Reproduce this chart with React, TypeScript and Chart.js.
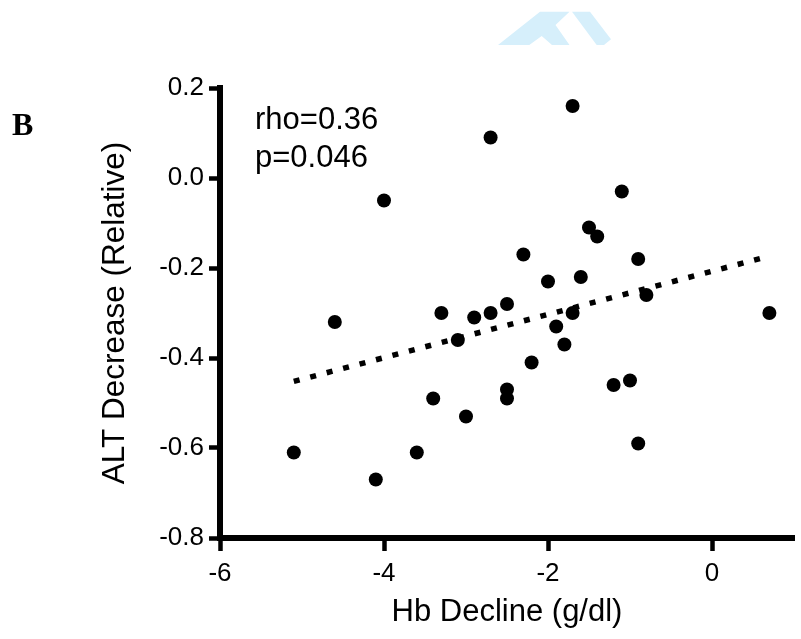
import React, { useEffect, useRef } from "react";
import { Chart, registerables } from "chart.js";

Chart.register(...registerables);

// ---- data ----
const hbDecline = [
  -1.7, -2.7, -4.0, -1.1, -1.5, -1.4, -2.3, -0.9, -2.0, -1.6, -0.8, -2.5, 0.7, -3.3, -2.7, -2.9,
  -4.6, -1.7, -1.9, -3.1, -1.8, -2.2, -1.2, -1.0, -2.5, -2.5, -3.4, -3.0, -0.9, -5.1, -3.6, -4.1,
];
const altDecrease = [
  0.16, 0.09, -0.05, -0.03, -0.11, -0.13, -0.17, -0.18, -0.23, -0.22, -0.26, -0.28, -0.3, -0.3, -0.3, -0.31,
  -0.32, -0.3, -0.33, -0.36, -0.37, -0.41, -0.46, -0.45, -0.47, -0.49, -0.49, -0.53, -0.59, -0.61, -0.61, -0.67,
];
const trendX = [-5.1, 0.65];
const trendY = [-0.452, -0.176];
const xMin = -6;
const xMax = 1;
const xStep = 2;
const yMin = -0.8;
const yMax = 0.2;
const yStep = 0.2;
const xTitle = "Hb Decline (g/dl)";
const yTitle = "ALT Decrease (Relative)";
const statLines = ["rho=0.36", "p=0.046"];
const panelLabel = "B";

const SANS = "'Liberation Sans', Arial, Helvetica, sans-serif";

const decorPlugin = {
  id: "decor",
  beforeDraw(chart: any) {
    const ctx = chart.ctx;
    ctx.save();
    // faint logo watermark at the top
    ctx.fillStyle = "#d6effb";
    ctx.beginPath();
    const p1 = [
      [498, 45], [540, 11.7], [569.5, 11.7], [555.5, 25], [569.5, 45], [552, 45], [541.7, 36], [529.3, 45],
    ];
    p1.forEach(([x, y], i) => (i ? ctx.lineTo(x, y) : ctx.moveTo(x, y)));
    ctx.closePath();
    ctx.fill();
    ctx.beginPath();
    const p2 = [[572, 11.7], [590, 11.7], [611, 39.3], [604, 45], [596.7, 45]];
    p2.forEach(([x, y], i) => (i ? ctx.lineTo(x, y) : ctx.moveTo(x, y)));
    ctx.closePath();
    ctx.fill();
    ctx.restore();
  },
  afterDraw(chart: any) {
    const ctx = chart.ctx;
    const area = chart.chartArea;
    ctx.save();
    ctx.fillStyle = "#000";
    ctx.textBaseline = "alphabetic";
    ctx.textAlign = "left";
    ctx.font = `31px ${SANS}`;
    ctx.fillText(statLines[0], area.left + 35, area.top + 41);
    ctx.fillText(statLines[1], area.left + 35, area.top + 79);
    ctx.font = "bold 32px 'Liberation Serif', 'Times New Roman', serif";
    ctx.fillText(panelLabel, 12, 135);
    ctx.restore();
  },
};

export default function App() {
  const ref = useRef<HTMLCanvasElement | null>(null);

  useEffect(() => {
    if (!ref.current) return;
    const points = hbDecline.map((x, i) => ({ x, y: altDecrease[i] }));
    const trend = trendX.map((x, i) => ({ x, y: trendY[i] }));
    const chart = new Chart(ref.current, {
      type: "scatter",
      data: {
        datasets: [
          {
            type: "line",
            data: trend,
            borderColor: "#000",
            borderWidth: 5.5,
            borderDash: [6, 11],
            borderCapStyle: "butt",
            pointRadius: 0,
            fill: false,
            order: 2,
          } as any,
          {
            data: points,
            backgroundColor: "#000",
            borderColor: "#000",
            borderWidth: 0,
            pointRadius: 7,
            pointHoverRadius: 7,
            order: 1,
          },
        ],
      },
      plugins: [decorPlugin],
      options: {
        responsive: false,
        animation: false,
        devicePixelRatio: 1,
        layout: { padding: { top: 88, right: 2, bottom: 0, left: 0 } },
        plugins: { legend: { display: false }, tooltip: { enabled: false } },
        scales: {
          x: {
            type: "linear",
            min: xMin,
            max: xMax,
            border: { display: true, color: "#000", width: 6 },
            grid: { drawOnChartArea: false, drawTicks: true, tickLength: 13, tickWidth: 4.5, tickColor: "#000", color: "#000" },
            ticks: {
              stepSize: xStep,
              includeBounds: false,
              padding: 7,
              color: "#000",
              font: { family: SANS, size: 26 },
              callback: (v: any) => String(Math.round(Number(v))),
            },
            title: {
              display: true,
              text: xTitle,
              color: "#000",
              font: { family: SANS, size: 31 },
              padding: { top: 0, bottom: 8 },
            },
            afterFit: (s: any) => {
              s.height = 101;
            },
          },
          y: {
            type: "linear",
            min: yMin,
            max: yMax,
            border: { display: true, color: "#000", width: 6 },
            grid: { drawOnChartArea: false, drawTicks: true, tickLength: 11, tickWidth: 4.5, tickColor: "#000", color: "#000" },
            ticks: {
              stepSize: yStep,
              padding: 5,
              color: "#000",
              font: { family: SANS, size: 26 },
              callback: (v: any) => {
                const n = Number(v);
                return Math.abs(n) < 1e-9 ? "0.0" : n.toFixed(1);
              },
            },
            title: {
              display: true,
              text: yTitle,
              color: "#000",
              font: { family: SANS, size: 31.5 },
              padding: { top: 96, bottom: 0 },
            },
            afterFit: (s: any) => {
              s.width = 220;
            },
          },
        },
      },
    });
    return () => chart.destroy();
  }, []);

  return (
    <div style={{ position: "fixed", left: 0, top: 0, width: 801, height: 639, background: "#fff" }}>
      <canvas ref={ref} width={801} height={639} style={{ display: "block" }} />
    </div>
  );
}
